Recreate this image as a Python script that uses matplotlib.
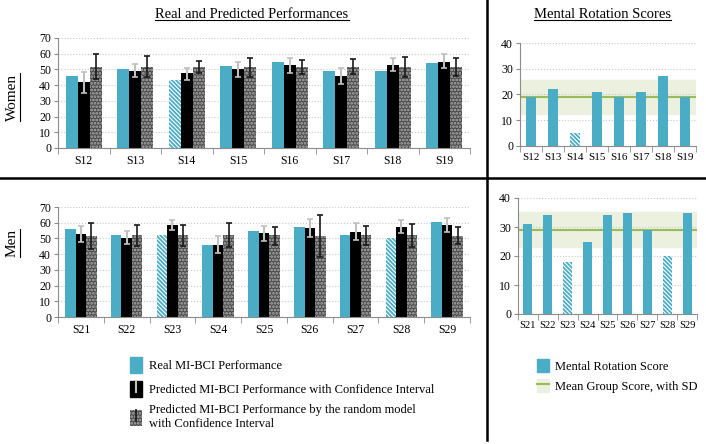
import matplotlib
matplotlib.use("Agg")
import matplotlib.pyplot as plt
import numpy as np
from matplotlib.patches import Patch
from matplotlib.lines import Line2D

plt.rcParams['font.family'] = ['Liberation Serif', 'DejaVu Serif']
plt.rcParams['hatch.linewidth'] = 1.3

# ---- data ----
women = ['S12', 'S13', 'S14', 'S15', 'S16', 'S17', 'S18', 'S19']
women_real = [46, 50.5, 43, 52, 55, 49, 49, 54]
women_pred = [42, 49, 47.5, 50, 52.5, 45.5, 53, 55]
women_pred_lo = [35, 45, 43.5, 45, 47.5, 40.5, 49, 51]
women_pred_hi = [48.5, 53.5, 51, 55, 57.5, 51, 57.5, 59.5]
women_rand = [51.5, 51.5, 51.5, 51.5, 51.5, 51.5, 51.5, 51.5]
women_rand_lo = [44, 45, 48, 45, 47, 47, 45, 45.5]
women_rand_hi = [59.5, 58.5, 55.5, 57.5, 56, 56.5, 58, 57.5]
women_low = [False, False, True, False, False, False, False, False]
women_mrot = [19, 22, 5, 21, 19, 21, 27, 19]
women_mean, women_sd = 19, 6.5

men = ['S21', 'S22', 'S23', 'S24', 'S25', 'S26', 'S27', 'S28', 'S29']
men_real = [56, 52, 52, 46, 55, 57.5, 52, 50, 60.5]
men_pred = [52.5, 50.5, 58.5, 46, 53.5, 56.5, 54, 57.5, 58.5]
men_pred_lo = [47.5, 46.5, 55.5, 41, 48.5, 51, 49, 53.5, 54]
men_pred_hi = [58, 54.5, 61.5, 51.5, 58, 62.5, 59.5, 61.5, 63]
men_rand = [51.5, 52, 52, 52, 52, 51.5, 52, 52, 51.5]
men_rand_lo = [43.5, 45.5, 45, 44.5, 46, 38, 46, 44.5, 46.5]
men_rand_hi = [60, 58.5, 58.5, 59.5, 57.5, 65, 58, 59, 57]
men_low = [False, False, True, False, False, False, False, True, False]
men_mrot = [31, 34, 18, 25, 34, 35, 29, 20, 35]
men_mean, men_sd = 29, 6

TEAL = '#4bacc6'
RND_FACE = '#4a4a4a'
RND_DOTS = '#b0b0b0'
HATCH = '\\' * 8
W, H = 706, 444

fig = plt.figure(figsize=(W / 100, H / 100), dpi=100)


def px_axes(x0, y0, x1, y1):
    return fig.add_axes([x0 / W, 1 - y1 / H, (x1 - x0) / W, (y1 - y0) / H])


def style(ax, ymax, fs):
    for s in ['top', 'right']:
        ax.spines[s].set_visible(False)
    for s in ['left', 'bottom']:
        ax.spines[s].set_color('#8c8c8c')
    ax.set_ylim(0, ymax)
    ax.set_yticks(np.arange(0, ymax + 1, 10))
    ax.yaxis.grid(True, linestyle=':', color='#c8c8c8', linewidth=0.8)
    ax.set_axisbelow(True)
    ax.tick_params(axis='y', labelsize=8.5, length=3, color='#8c8c8c', pad=2)
    ax.tick_params(axis='x', which='major', length=0, labelsize=fs, pad=5)
    ax.tick_params(axis='x', which='minor', length=4, color='#8c8c8c')


def perf_panel(ax, names, real, pred, plo, phi, rnd, rlo, rhi, low):
    n = len(names)
    x = np.arange(n)
    w = 0.23
    for i in range(n):
        if low[i]:
            ax.bar(x[i] - w, real[i], w, color='white', edgecolor=TEAL,
                   hatch=HATCH, linewidth=0)
        else:
            ax.bar(x[i] - w, real[i], w, color=TEAL, linewidth=0)
    ax.bar(x, pred, w, color='black', linewidth=0)
    ax.bar(x + w, rnd, w, color=RND_FACE, edgecolor=RND_DOTS,
           hatch='.....', linewidth=0)
    pred, rnd = np.array(pred), np.array(rnd)
    ax.errorbar(x, pred, yerr=[pred - np.array(plo), np.array(phi) - pred],
                fmt='none', ecolor='#c0c0c0', elinewidth=1.5, capsize=2.5,
                capthick=1.2)
    ax.errorbar(x + w, rnd, yerr=[rnd - np.array(rlo), np.array(rhi) - rnd],
                fmt='none', ecolor='#1a1a1a', elinewidth=1.2, capsize=2.5,
                capthick=1.2)
    ax.set_xlim(-0.5, n - 0.5)
    ax.set_xticks(x)
    ax.set_xticklabels(names)
    ax.set_xticks(np.arange(-0.5, n), minor=True)
    style(ax, 70, 8.5)


def mrot_panel(ax, names, vals, low, mean, sd, fs):
    n = len(names)
    x = np.arange(n)
    ax.axhspan(mean - sd, mean + sd, color='#ebf1de', zorder=0)
    ax.axhline(mean, color='#9bbb59', linewidth=1.5, zorder=1)
    for i in range(n):
        if low[i]:
            ax.bar(x[i], vals[i], 0.45, color='white', edgecolor=TEAL,
                   hatch=HATCH, linewidth=0, zorder=2)
        else:
            ax.bar(x[i], vals[i], 0.45, color=TEAL, linewidth=0, zorder=2)
    ax.set_xlim(-0.5, n - 0.5)
    ax.set_xticks(x)
    ax.set_xticklabels(names)
    ax.set_xticks(np.arange(-0.5, n), minor=True)
    style(ax, 40, fs)


ax1 = px_axes(58, 38, 470, 148)
perf_panel(ax1, women, women_real, women_pred, women_pred_lo, women_pred_hi,
           women_rand, women_rand_lo, women_rand_hi, women_low)
ax2 = px_axes(520, 43, 696, 146)
mrot_panel(ax2, women, women_mrot, women_low, women_mean, women_sd, 8)
ax3 = px_axes(58, 207, 470, 317)
perf_panel(ax3, men, men_real, men_pred, men_pred_lo, men_pred_hi,
           men_rand, men_rand_lo, men_rand_hi, men_low)
ax4 = px_axes(518, 198, 697, 314)
mrot_panel(ax4, men, men_mrot, men_low, men_mean, men_sd, 7.6)

# frame lines
fig.add_artist(Line2D([0, 1], [1 - 178 / H] * 2, color='black', lw=1.8))
fig.add_artist(Line2D([487 / W] * 2, [1, 1 - 440 / H], color='black', lw=1.8))

# titles and side labels (underlined)
labels = [
    fig.text(252 / W, 1 - 15 / H, 'Real and Predicted Performances',
             ha='center', va='center', fontsize=10.5),
    fig.text(602 / W, 1 - 15 / H, 'Mental Rotation Scores',
             ha='center', va='center', fontsize=10.5),
    fig.text(12 / W, 1 - 97 / H, 'Women', ha='center', va='center',
             rotation=90, fontsize=11),
    fig.text(12 / W, 1 - 243 / H, 'Men', ha='center', va='center',
             rotation=90, fontsize=11),
]
fig.canvas.draw()
r = fig.canvas.get_renderer()
for t in labels:
    bb = t.get_window_extent(r)
    if t.get_rotation() == 90:
        xx = (bb.x1 + 1) / W
        fig.add_artist(Line2D([xx, xx], [bb.y0 / H, bb.y1 / H],
                              color='black', lw=0.8))
    else:
        yy = (bb.y0 + 1) / H
        fig.add_artist(Line2D([bb.x0 / W, bb.x1 / W], [yy, yy],
                              color='black', lw=0.8))

# legends
e_gray = ax1.errorbar([], [], yerr=[], fmt='none', ecolor='#c0c0c0',
                      elinewidth=1.5, capsize=2.5)
e_black = ax1.errorbar([], [], yerr=[], fmt='none', ecolor='#1a1a1a',
                       elinewidth=1.2, capsize=2.5)
h1 = Patch(color=TEAL)
h2 = (Patch(color='black'), e_gray)
h3 = (Patch(facecolor=RND_FACE, edgecolor=RND_DOTS, hatch='.....', lw=0),
      e_black)
fig.legend([h1, h2, h3],
           ['Real MI-BCI Performance',
            'Predicted MI-BCI Performance with Confidence Interval',
            'Predicted MI-BCI Performance by the random model\n'
            'with Confidence Interval'],
           loc='upper left', bbox_to_anchor=(119 / W, 1 - 346 / H),
           frameon=False, fontsize=9, handlelength=0.9, handleheight=1.6,
           handletextpad=0.6, labelspacing=0.6)

h4 = Patch(color=TEAL)
h5 = (Patch(color='#ebf1de'), Line2D([], [], color='#9bbb59', lw=1.5))
fig.legend([h4, h5], ['Mental Rotation Score', 'Mean Group Score, with SD'],
           loc='upper left', bbox_to_anchor=(526 / W, 1 - 348 / H),
           frameon=False, fontsize=9, handlelength=0.9, handleheight=1.2,
           handletextpad=0.5, labelspacing=0.5)

fig.savefig('out.png', dpi=100)
